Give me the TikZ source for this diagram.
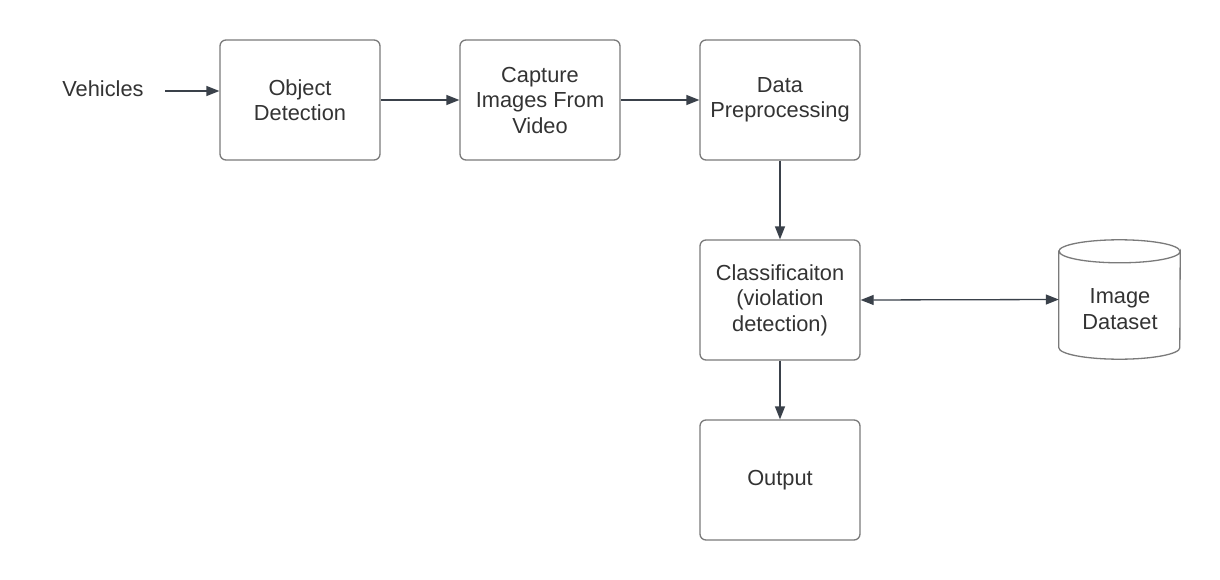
\documentclass[tikz,border=0pt]{standalone}
\usepackage{fontspec}
\setmainfont{Liberation Sans}
\usetikzlibrary{arrows.meta}
\definecolor{boxline}{HTML}{7A7A7A}
\definecolor{arrowc}{HTML}{3A414A}
\definecolor{txt}{HTML}{333333}
\begin{document}
\begin{tikzpicture}[x=1pt,y=-1pt,
  box/.style={draw=boxline, line width=1.3pt, rounded corners=6pt, minimum width=160pt, minimum height=120pt, align=center, text=txt, font=\fontsize{21.8}{25.5}\selectfont},
  lbl/.style={align=center, text=txt, font=\fontsize{21.8}{25.5}\selectfont},
  conn/.style={draw=arrowc, line width=1.3pt, -{Triangle[length=13pt,width=10pt]}},
  dconn/.style={draw=arrowc, line width=1.3pt, {Triangle[length=13pt,width=10pt]}-{Triangle[length=13pt,width=10pt]}}]
\fill[white] (0,0) rectangle (1220,580);
\useasboundingbox (0,0) rectangle (1220,580);
\node[lbl] (veh) at (103,89) {Vehicles};
\coordinate (vehend) at (165,91);
\node[box] (od) at (300,100) {Object\\Detection};
\node[box] (cap) at (540,100) {Capture\\Images From\\Video};
\node[box] (dp) at (780,100) {Data\\Preprocessing};
\node[box] (cl) at (780,300) {Classificaiton\\(violation\\detection)};
\node[box] (out) at (780,480) {Output};
% cylinder
\node[minimum width=121pt, minimum height=119pt, inner sep=0pt] (img) at (1119.5,299.5) {};
\draw[boxline, line width=1.3pt, fill=white]
  ([yshift=-11.5pt]img.north west) -- ([yshift=11.5pt]img.south west)
  arc[start angle=180, end angle=360, x radius=60.5pt, y radius=11.5pt]
  -- ([yshift=-11.5pt]img.north east)
  arc[start angle=0, end angle=-180, x radius=60.5pt, y radius=11.5pt] -- cycle;
\draw[boxline, line width=1.3pt]
  ([yshift=-11.5pt]img.north west) arc[start angle=180, end angle=0, x radius=60.5pt, y radius=11.5pt];
\node[lbl] (imgt) at (1120,309) {Image\\Dataset};
\draw[conn] (vehend) -- (vehend -| od.west);
\draw[conn] (od.east) -- (cap.west);
\draw[conn] (cap.east) -- (dp.west);
\draw[conn] (dp.south) -- (cl.north);
\draw[conn] (cl.south) -- (out.north);
\draw[dconn] (cl.east) -- (img.west);
\end{tikzpicture}
\end{document}
